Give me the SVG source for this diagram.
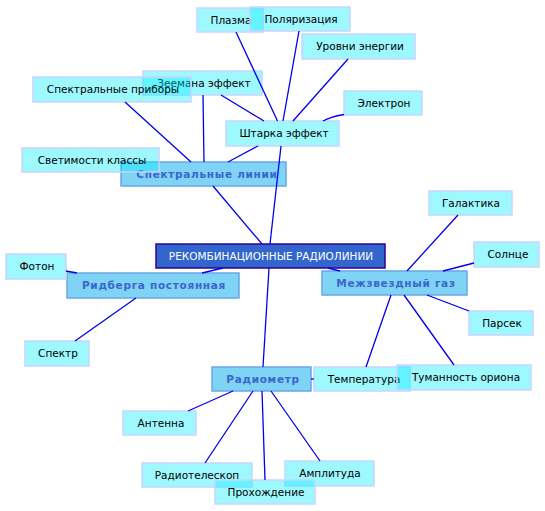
<svg xmlns="http://www.w3.org/2000/svg" width="545" height="511" viewBox="0 0 545 511">
<style>
.leaf rect{fill:#00f0ff;fill-opacity:0.38;stroke:#c8d4ff;stroke-width:1.5}
.leaf text{font-family:"DejaVu Sans",sans-serif;font-size:10.5px;fill:#000;text-anchor:middle}
.main rect{fill:#7fd3f5;stroke:#6aa6e8;stroke-width:1.5}
.main text{font-family:"DejaVu Sans",sans-serif;font-size:10.5px;font-weight:bold;letter-spacing:0.7px;fill:#3a66cc;text-anchor:middle}
.center rect{fill:#3366cc;stroke:#330099;stroke-width:1.5}
.center text{font-family:"DejaVu Sans",sans-serif;font-size:10.5px;fill:#fff;text-anchor:middle}
.conn line,.conn path{stroke:#0000ee;stroke-width:1.3;fill:none}
</style>
<rect width="545" height="511" fill="#fff"/>
<g id="n-center" class="center"><rect x="156" y="244" width="229" height="24"/><text x="271" y="260">РЕКОМБИНАЦИОННЫЕ РАДИОЛИНИИ</text></g>
<g id="n-spektr-linii" class="main"><rect x="121" y="162" width="165" height="24"/><text x="207" y="178">Спектральные линии</text></g>
<g id="n-ridberg" class="main"><rect x="67" y="273" width="172" height="25"/><text x="154" y="289">Ридберга постоянная</text></g>
<g id="n-mezhzv" class="main"><rect x="322" y="271" width="145" height="24"/><text x="396" y="287">Межзвездный газ</text></g>
<g id="n-radiometr" class="main"><rect x="212" y="367" width="99" height="24"/><text x="263" y="383">Радиометр</text></g>
<g id="n-plazma" class="leaf"><rect x="197" y="8" width="66" height="24"/><text x="231" y="24">Плазма</text></g>
<g id="n-polyar" class="leaf"><rect x="250" y="7" width="100" height="24"/><text x="301" y="23">Поляризация</text></g>
<g id="n-urovni" class="leaf"><rect x="302" y="34" width="113" height="25"/><text x="360" y="50">Уровни энергии</text></g>
<g id="n-elektron" class="leaf"><rect x="344" y="91" width="78" height="24"/><text x="384" y="107">Электрон</text></g>
<g id="n-shtark" class="leaf"><rect x="226" y="121" width="113" height="25"/><text x="284" y="137">Штарка эффект</text></g>
<g id="n-zeeman" class="leaf"><rect x="143" y="71" width="119" height="24"/><text x="204" y="87">Зеемана эффект</text></g>
<g id="n-pribory" class="leaf"><rect x="33" y="77" width="158" height="25"/><text x="113" y="93">Спектральные приборы</text></g>
<g id="n-svetim" class="leaf"><rect x="22" y="148" width="137" height="24"/><text x="92" y="164">Светимости классы</text></g>
<g id="n-foton" class="leaf"><rect x="6" y="254" width="60" height="25"/><text x="37" y="270">Фотон</text></g>
<g id="n-spektr" class="leaf"><rect x="25" y="341" width="64" height="25"/><text x="58" y="357">Спектр</text></g>
<g id="n-galaktika" class="leaf"><rect x="429" y="191" width="83" height="24"/><text x="471" y="207">Галактика</text></g>
<g id="n-solnce" class="leaf"><rect x="474" y="242" width="65" height="25"/><text x="508" y="258">Солнце</text></g>
<g id="n-parsek" class="leaf"><rect x="469" y="311" width="64" height="24"/><text x="502" y="327">Парсек</text></g>
<g id="n-temp" class="leaf"><rect x="314" y="367" width="96" height="24"/><text x="364" y="383">Температура</text></g>
<g id="n-tuman" class="leaf"><rect x="397" y="365" width="134" height="25"/><text x="466" y="381">Туманность ориона</text></g>
<g id="n-antenna" class="leaf"><rect x="123" y="411" width="73" height="24"/><text x="161" y="427">Антенна</text></g>
<g id="n-radioteleskop" class="leaf"><rect x="142" y="463" width="110" height="24"/><text x="197" y="479">Радиотелескоп</text></g>
<g id="n-amplituda" class="leaf"><rect x="285" y="461" width="89" height="25"/><text x="330" y="477">Амплитуда</text></g>
<g id="n-prohozhd" class="leaf"><rect x="215" y="480" width="100" height="24"/><text x="266" y="496">Прохождение</text></g>
<g id="connectors" class="conn">
<line x1="262" y1="244" x2="213" y2="186"/>
<line x1="270" y1="244" x2="281" y2="146"/>
<line x1="258" y1="146" x2="228" y2="162"/>
<line x1="221" y1="95" x2="264" y2="121"/>
<path d="M203,95 Q203.5,130 204,162"/>
<line x1="125" y1="102" x2="191" y2="162"/>
<line x1="236" y1="32" x2="277.5" y2="121"/>
<line x1="299" y1="31" x2="283" y2="121"/>
<line x1="348" y1="59" x2="293" y2="121"/>
<path d="M344,114.5 Q330,117 323,121"/>
<line x1="223" y1="268" x2="202" y2="273"/>
<line x1="66" y1="271" x2="77" y2="273"/>
<line x1="136" y1="298" x2="75" y2="341"/>
<line x1="269" y1="268" x2="263" y2="367"/>
<line x1="328" y1="268" x2="340" y2="271"/>
<line x1="407" y1="271" x2="458" y2="215"/>
<line x1="443" y1="271" x2="474" y2="263"/>
<line x1="427" y1="295" x2="469" y2="311"/>
<line x1="404" y1="295" x2="454" y2="365"/>
<line x1="391" y1="295" x2="366" y2="367"/>
<line x1="311" y1="379" x2="314" y2="379"/>
<line x1="233" y1="391" x2="188" y2="411"/>
<line x1="253" y1="391" x2="205" y2="463"/>
<line x1="262" y1="391" x2="265" y2="480"/>
<line x1="271" y1="391" x2="320" y2="461"/>
</g>
</svg>
